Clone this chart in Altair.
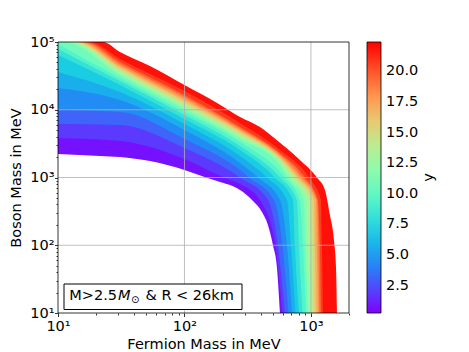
import altair as alt
import pandas as pd

# colour value of each contour curve (colorbar "y")
levels = [0.27, 1.25, 2.5, 3.75, 5.0, 6.25, 7.5, 8.75, 10.0, 11.25, 12.5,
          13.75, 15.0, 16.25, 17.5, 18.75, 20.0, 21.5, 22.4]

# points (Fermion mass, Boson mass) in MeV along each contour
fermion_mass = [
    [10, 21.5, 30.9, 53.3, 100, 148, 181, 275, 342, 410, 457, 501, 538, 569],   # 0.27
    [10, 30.9, 100, 205, 275, 395, 524, 595],                                   # 1.25
    [10, 30.9, 100, 275, 457, 548, 623],                                        # 2.5
    [10, 30.9, 100, 275, 324, 510, 595, 664],                                   # 3.75
    [10, 30.9, 100, 275, 381, 569, 646, 708],                                   # 5
    [10, 30.9, 100, 275, 449, 646, 695, 754],                                   # 6.25
    [10, 30.9, 100, 275, 519, 721, 747, 804],                                   # 7.5
    [10, 30.9, 100, 275, 569, 775, 804, 857],                                   # 8.75
    [10, 30.9, 100, 275, 623, 818, 865, 913],                                   # 10
    [10, 11.16, 30.9, 100, 275, 569, 658, 880, 905, 947],                       # 11.25
    [10, 12.2, 30.9, 100, 275, 569, 695, 930, 947, 982],                        # 12.5
    [10, 12.79, 30.9, 100, 275, 569, 727, 982, 991, 1018],                      # 13.75
    [10, 13.4, 30.9, 100, 275, 569, 761, 1018, 1037, 1056],                     # 15
    [10, 14.0, 30.9, 100, 275, 569, 789, 1056, 1075, 1095],                     # 16.25
    [10, 14.6, 30.9, 100, 275, 569, 818, 1095, 1115, 1136],                     # 17.5
    [10, 15.62, 30.9, 100, 275, 569, 857, 1115, 1146, 1167],                    # 18.75
    [10, 16.6, 30.9, 100, 275, 569, 897, 1136, 1178, 1200],                     # 20
    [10, 17.9, 30.9, 100, 275, 569, 964, 1200, 1222, 1245],                     # 21.5
    [10, 22.7, 30.9, 53.3, 100, 181, 275, 395, 501, 818, 1115, 1291, 1413, 1521, 1578, 1607],  # 22.4
]
boson_mass = [
    [2220, 2080, 2010, 1750, 1290, 1000, 888, 653, 466, 310, 199, 100, 47.8, 10],
    [3830, 3460, 1875, 1000, 802, 466, 100, 10],
    [6160, 5960, 2725, 1000, 466, 100, 10],
    [9920, 9270, 3700, 1290, 1000, 466, 100, 10],
    [20940, 13930, 5024, 1637, 1000, 466, 100, 10],
    [36070, 18280, 6161, 2077, 1000, 466, 100, 10],
    [64300, 23190, 7303, 2546, 1000, 466, 100, 10],
    [78840, 26580, 8366, 2917, 1000, 466, 100, 10],
    [93440, 29420, 9265, 3342, 1000, 466, 100, 10],
    [1e5, 1e5, 32580, 10260, 3701, 1530, 1000, 466, 100, 10],
    [1e5, 1e5, 34870, 10980, 3961, 1693, 1000, 466, 100, 10],
    [1e5, 1e5, 37330, 11750, 4239, 1782, 1000, 466, 100, 10],
    [1e5, 1e5, 39950, 12580, 4537, 1875, 1000, 466, 100, 10],
    [1e5, 1e5, 42030, 13460, 4775, 1973, 1000, 466, 100, 10],
    [1e5, 1e5, 44230, 14410, 5024, 2077, 1000, 466, 100, 10],
    [1e5, 1e5, 47350, 15430, 5288, 2185, 1000, 466, 100, 10],
    [1e5, 1e5, 50680, 16510, 5565, 2299, 1000, 466, 100, 10],
    [1e5, 1e5, 56140, 18920, 6374, 2546, 1000, 466, 100, 10],
    [1e5, 1e5, 71200, 44200, 23200, 12600, 7820, 5560, 3960, 1810, 1000, 653, 279, 119, 47.8, 10],
]

x_ticks = [10, 20, 30, 40, 50, 60, 70, 80, 90, 100, 200, 300, 400, 500, 600, 700, 800, 900, 1000, 2000]
y_ticks = ([10, 20, 30, 40, 50, 60, 70, 80, 90] + [100, 200, 300, 400, 500, 600, 700, 800, 900]
           + [1000, 2000, 3000, 4000, 5000, 6000, 7000, 8000, 9000]
           + [10000, 20000, 30000, 40000, 50000, 60000, 70000, 80000, 90000, 100000])
grid_x = [100, 1000]
grid_y = [100, 1000, 10000]
cbar_ticks = [2.5, 5.0, 7.5, 10.0, 12.5, 15.0, 17.5, 20.0]
x_domain = [10, 2000]
y_domain = [10, 100000]
c_domain = [0.27, 22.4]

# matplotlib "rainbow" colormap stops
rainbow = ["#8000ff", "#4d4ffc", "#1a96f3", "#1acee3", "#4df3ce", "#80ffb4",
           "#b3f396", "#e6ce74", "#ff964f", "#ff4f28", "#ff0000"]

W, H = 291, 271
FONT = "DejaVu Sans"
FS = 14.5

rows = []
for i, lv in enumerate(levels):
    band = (levels[i - 1] + lv) / 2 if i > 0 else lv
    for xv, yv in zip(fermion_mass[i], boson_mass[i]):
        rows.append({"level": i, "mf": xv, "mb": yv, "band": band, "base": 10})
df = pd.DataFrame(rows)

dec = "abs(log(datum.value)/LN10 - round(log(datum.value)/LN10)) < 0.001"
E = "round(log(datum.value)/LN10)"
lab = (f"{dec} ? ({E} == 1 ? '10¹' : {E} == 2 ? '10²' : {E} == 3 ? '10³' : "
       f"{E} == 4 ? '10⁴' : '10⁵') : ''")
tick_size = {"condition": {"test": dec, "value": 3.5}, "value": 2}

xs = alt.Scale(type="log", domain=x_domain, nice=False)
ys = alt.Scale(type="log", domain=y_domain, nice=False)
cs = alt.Scale(domain=c_domain, range=rainbow, interpolate="rgb")

xaxis = alt.Axis(title="Fermion Mass in MeV", values=x_ticks, labelExpr=lab, grid=False, domain=False,
                 tickSize=tick_size, tickColor="black", tickWidth=0.8, labelOverlap=False,
                 labelFlush=False, labelBaseline="alphabetic", labelPadding=13.5,
                 titleY=35.7, titleBaseline="alphabetic")
yaxis = alt.Axis(title="Boson Mass in MeV", values=y_ticks, labelExpr=lab, grid=False, domain=False,
                 tickSize=tick_size, tickColor="black", tickWidth=0.8, labelOverlap=False,
                 labelFlush=False, labelPadding=0.5,
                 titleX=-38, titleY=H / 2, titleAngle=270, titleBaseline="alphabetic", titleAlign="center")
legend = alt.Legend(title=None, orient="right", offset=18, padding=0, gradientLength=H,
                    gradientThickness=14, values=cbar_ticks, format=".1f", labelOffset=5,
                    labelOverlap=False, gradientStrokeColor="black", gradientStrokeWidth=0.8)

X = alt.X("mf:Q", scale=xs, axis=xaxis)
Y = alt.Y("mb:Q", scale=ys, axis=yaxis)

layers = []
for i in range(len(levels) - 1, 0, -1):
    layers.append(
        alt.Chart(df[df.level == i]).mark_area(interpolate="monotone", clip=True).encode(
            x=X, y=Y, y2=alt.Y2("base:Q"),
            color=alt.Color("band:Q", scale=cs, legend=legend),
        )
    )
layers.append(
    alt.Chart(df[df.level == 0]).mark_area(interpolate="monotone", clip=True, color="white").encode(
        x=X, y=Y, y2=alt.Y2("base:Q"))
)

gx = pd.DataFrame({"gx": grid_x})
gy = pd.DataFrame({"gy": grid_y})
layers.append(alt.Chart(gx).mark_rule(color="#b0b0b0", strokeWidth=0.8).encode(
    x=alt.X("gx:Q", scale=xs, axis=xaxis)))
layers.append(alt.Chart(gy).mark_rule(color="#b0b0b0", strokeWidth=0.8).encode(
    y=alt.Y("gy:Q", scale=ys, axis=yaxis)))

one = pd.DataFrame({"a": [0]})
layers.append(alt.Chart(one).mark_rect(filled=False, stroke="black", strokeWidth=0.8).encode(
    x=alt.datum(x_domain[0], scale=xs, axis=xaxis), x2=alt.datum(x_domain[1]),
    y=alt.datum(y_domain[0], scale=ys, axis=yaxis), y2=alt.datum(y_domain[1])))

# annotation box
layers.append(alt.Chart(one).mark_rect(fill="white", stroke="black", strokeWidth=1).encode(
    x=alt.value(6), x2=alt.value(184), y=alt.value(242), y2=alt.value(267.5)))
tb = 257.7
layers.append(alt.Chart(one).mark_text(align="left", baseline="alphabetic", font=FONT, fontSize=FS,
                                       color="black").encode(
    x=alt.value(11.3), y=alt.value(tb), text=alt.value("M>2.5")))
layers.append(alt.Chart(one).mark_text(align="left", baseline="alphabetic", font=FONT, fontSize=FS,
                                       fontStyle="italic", color="black").encode(
    x=alt.value(60), y=alt.value(tb), text=alt.value("M")))
layers.append(alt.Chart(one).mark_text(align="left", baseline="alphabetic", font=FONT, fontSize=10,
                                       color="black").encode(
    x=alt.value(73), y=alt.value(tb + 3), text=alt.value("⊙")))
layers.append(alt.Chart(one).mark_text(align="left", baseline="alphabetic", font=FONT, fontSize=FS,
                                       color="black").encode(
    x=alt.value(87.5), y=alt.value(tb), text=alt.value("& R < 26km")))
# colorbar label
layers.append(alt.Chart(one).mark_text(align="center", baseline="alphabetic", font=FONT, fontSize=FS,
                                       angle=270, color="black").encode(
    x=alt.value(375), y=alt.value(H / 2), text=alt.value("y")))

chart = alt.layer(*layers).properties(
    width=W, height=H,
    autosize=alt.AutoSizeParams(type="none"),
    padding={"left": 50, "top": 34, "right": 110, "bottom": 38},
).configure_view(stroke=None).configure_axis(
    labelFont=FONT, labelFontSize=FS, labelColor="black",
    titleFont=FONT, titleFontSize=FS, titleFontWeight="normal", titleColor="black",
).configure_legend(
    labelFont=FONT, labelFontSize=FS, labelColor="black",
)

chart.save("out.html", embed_options={"renderer": "svg", "actions": False})
